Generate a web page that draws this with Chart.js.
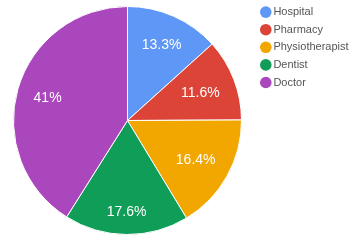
<!DOCTYPE html>
<html><head><meta charset="utf-8">
<script src="https://cdn.jsdelivr.net/npm/chart.js@4/dist/chart.umd.min.js"></script>
<style>html,body{margin:0;padding:0;background:#fff;overflow:hidden;} #wrap{width:360px;height:240px;position:relative;overflow:hidden;} #c{position:absolute;left:-10px;top:0;}</style>
</head><body><div id="wrap"><canvas id="c" width="370" height="241"></canvas></div>
<script>
const categories = ['Hospital', 'Pharmacy', 'Physiotherapist', 'Dentist', 'Doctor'];
const percentages = [13.3, 11.6, 16.4, 17.6, 41];
const sliceLabels = ['13.3%', '11.6%', '16.4%', '17.6%', '41%'];
const colors = ['#5e97f6', '#db4437', '#f2a600', '#0f9d58', '#ab47bc'];

const FONT = '"Liberation Sans", Arial, sans-serif';

const sliceLabelPlugin = {
  id: 'sliceLabels',
  afterDatasetsDraw(chart) {
    const ctx = chart.ctx;
    const meta = chart.getDatasetMeta(0);
    ctx.save();
    ctx.font = '14px ' + FONT;
    ctx.fillStyle = '#ffffff';
    ctx.textAlign = 'center';
    ctx.textBaseline = 'alphabetic';
    meta.data.forEach((arc, i) => {
      const p = arc.getProps(['x', 'y', 'startAngle', 'endAngle', 'outerRadius'], true);
      const mid = (p.startAngle + p.endAngle) / 2;
      const ux = Math.cos(mid), uy = Math.sin(mid);
      const text = sliceLabels[i];
      const w = ctx.measureText(text).width;
      const h = 10;
      const D = 0.86 * p.outerRadius;
      const a = Math.abs(ux), b = Math.abs(uy);
      const B = a * w + b * h;
      const C = (w * w + h * h) / 4 - D * D;
      const d = (-B + Math.sqrt(B * B - 4 * C)) / 2;
      const cx = p.x + d * ux, cy = p.y + d * uy;
      ctx.fillText(text, cx, cy + h / 2);
    });
    ctx.restore();
  }
};

new Chart(document.getElementById('c'), {
  type: 'pie',
  data: {
    labels: categories,
    datasets: [{
      data: percentages,
      backgroundColor: colors,
      borderColor: '#ffffff',
      borderWidth: 1,
      radius: 114
    }]
  },
  options: {
    responsive: false,
    animation: false,
    devicePixelRatio: 1,
    layout: { padding: { left: 7.9, right: 1.4, top: 0, bottom: 0 } },
    plugins: {
      tooltip: { enabled: false },
      legend: {
        position: 'right',
        align: 'start',
        labels: {
          usePointStyle: true,
          pointStyle: 'circle',
          boxWidth: 4.2,
          boxHeight: 8.2,
          padding: 6.6,
          color: '#555555',
          font: { family: FONT, size: 11 },
          generateLabels(chart) {
            return Chart.overrides.pie.plugins.legend.labels.generateLabels(chart)
              .map(l => Object.assign(l, { lineWidth: 0, strokeStyle: 'rgba(0,0,0,0)' }));
          }
        }
      }
    }
  },
  plugins: [sliceLabelPlugin]
});
</script>
</body></html>
